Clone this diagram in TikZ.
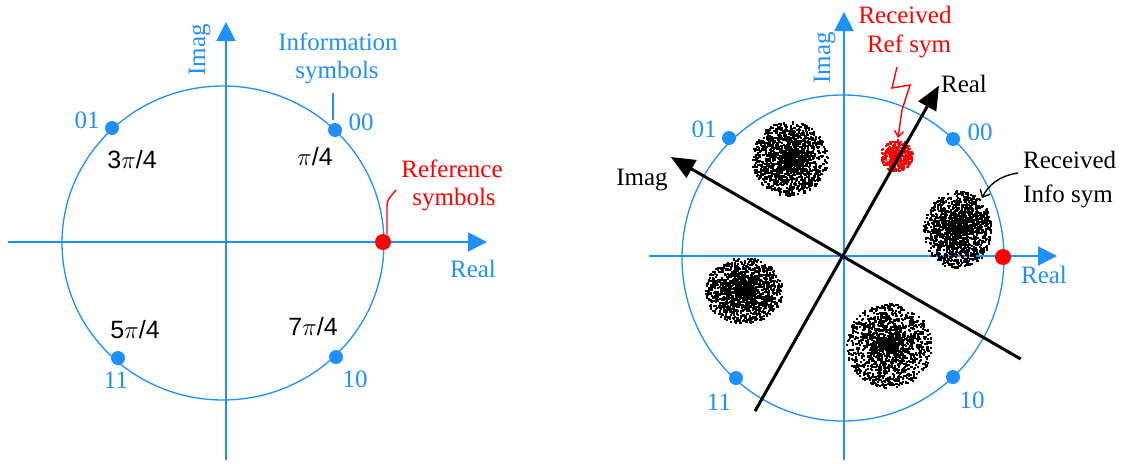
\documentclass[tikz,border=0pt]{standalone}
\usepackage{fontspec}
\setmainfont{Liberation Serif}
\newfontfamily\sansf{Liberation Sans}
\usetikzlibrary{arrows.meta,calc}
\definecolor{cblue}{RGB}{30,144,255}
\definecolor{cred}{RGB}{255,0,0}
\begin{document}
\begin{tikzpicture}[x=1pt,y=-1pt,
  lbl/.style={font=\fontsize{25}{30}\selectfont, inner sep=0pt},
  blbl/.style={lbl,text=cblue},
  rlbl/.style={lbl,text=cred},
  klbl/.style={lbl,text=black},
  plbl/.style={font=\sansf\fontsize{25}{29}\selectfont, inner sep=0pt},
  axisb/.style={draw=cblue,line width=2pt,-{Triangle[length=19pt,width=19pt]}},
  circb/.style={draw=cblue,line width=1.3pt},
  bdot/.style={circle,fill=cblue,minimum size=14pt,inner sep=0pt},
  rdot/.style={circle,fill=cred,minimum size=16pt,inner sep=0pt},
  axisk/.style={draw=black,line width=3pt,-{Triangle[length=24pt,width=20pt]}},
  redlead/.style={draw=cred,line width=1.4pt},
  blklead/.style={draw=black,line width=1.4pt},
]
\useasboundingbox[fill=white] (0,0) rectangle (1123,463);

% ================= LEFT DIAGRAM =================
\coordinate (LxS) at (8,242);
\coordinate (LxE) at (487,242);
\coordinate (LyS) at (226,460);
\coordinate (LyE) at (226,22);
\draw[circb] (223,243) ellipse[x radius=161pt, y radius=157pt];
\draw[axisb] (LxS) -- (LxE);
\draw[axisb] (LyS) -- (LyE);

\node[bdot] (L01) at (112,128) {};
\node[bdot] (L00) at (335,130) {};
\node[bdot] (L11) at (118,358) {};
\node[bdot] (L10) at (336,357) {};
\node[rdot] (Lref) at (383,242) {};

\node[blbl,anchor=base] (tL01) at (87,128) {01};
\node[blbl,anchor=base] (tL00) at (361,130) {00};
\node[blbl,anchor=base] (tL11) at (116,388) {11};
\node[blbl,anchor=base] (tL10) at (355,387) {10};

\node[plbl,anchor=base] (p3) at (132,168) {3$\pi$/4};
\node[plbl,anchor=base] (p1) at (315,165) {$\pi$/4};
\node[plbl,anchor=base] (p5) at (135,338) {5$\pi$/4};
\node[plbl,anchor=base] (p7) at (313,335) {7$\pi$/4};

\node[blbl,anchor=base] (info1) at (338,50) {Information};
\node[blbl,anchor=base] (info2) at (337,78) {symbols};
\coordinate (infoLine) at (333,93);
\draw[draw=cblue,line width=1.3pt,shorten >=3pt] (infoLine) -- (infoLine |- L00.north);

\node[rlbl,anchor=base] (ref1) at (452,177) {Reference};
\node[rlbl,anchor=base] (ref2) at (454,205) {symbols};
\coordinate (refEnd) at (396,190);
\draw[redlead] ([xshift=4pt]Lref.north) -- ++(0,-28) .. controls ++(0,-8) and ++(-4,6) .. (refEnd);

\node[blbl,anchor=base] (LReal) at (473,277) {Real};
\node[blbl,anchor=base,rotate=90] (LImag) at (205,50) {Imag};

% ================= RIGHT DIAGRAM =================
\coordinate (RxS) at (649,256);
\coordinate (RxE) at (1057,256);
\coordinate (RyS) at (844,460);
\coordinate (RyE) at (844,12);
\coordinate (RO) at (844,257);
\draw[circb] (843,258) ellipse[x radius=161pt, y radius=163pt];
\draw[axisb] (RxS) -- (RxE);
\draw[axisb] (RyS) -- (RyE);

% noise clusters
\pgfmathsetseed{4711}
\foreach \cx/\cy/\rx/\ry in {789/158/38/37, 957/229/34/39, 743/290/39/33, 888/345/43/42} {
  \foreach \i in {1,...,1500} {
    \pgfmathsetmacro\ang{360*rnd}
    \pgfmathsetmacro\rad{rnd^0.85}
    \fill[black] ({\cx+\rx*\rad*cos(\ang)},{\cy+\ry*\rad*sin(\ang)}) rectangle ++(2.1,2.1);
  }
}
\foreach \i in {1,...,380} {
  \pgfmathsetmacro\ang{360*rnd}
  \pgfmathsetmacro\rad{rnd^0.7}
  \fill[cred] ({896+16*\rad*cos(\ang)},{155+16*\rad*sin(\ang)}) rectangle ++(2.1,2.1);
}
\coordinate (rcl) at (897,155);

% rotated black axes (angles negated because y points down)
\coordinate (kRS) at ($(RO)+(120:178)$);
\coordinate (kRE) at ($(RO)+(-61:196)$);
\coordinate (kIS) at ($(RO)+(30:204)$);
\coordinate (kIE) at ($(RO)+(-150:200)$);
\draw[axisk] (kRS) -- (kRE);
\draw[axisk] (kIS) -- (kIE);

\node[bdot] (R01) at (729,138) {};
\node[bdot] (R00) at (953,139) {};
\node[bdot] (R11) at (736,378) {};
\node[bdot] (R10) at (953,377) {};
\node[rdot] (Rref) at (1003,257) {};

\node[blbl,anchor=base] (tR01) at (704,137) {01};
\node[blbl,anchor=base] (tR00) at (980,140) {00};
\node[blbl,anchor=base] (tR11) at (719,410) {11};
\node[blbl,anchor=base] (tR10) at (972,408) {10};

\node[blbl,anchor=base] (RReal) at (1044,283) {Real};
\node[blbl,anchor=base,rotate=90] (RImag) at (830,58) {Imag};

\node[klbl,anchor=base] (kReal) at (964,92) {Real};
\node[klbl,anchor=base] (kImag) at (642,185) {Imag};

\node[rlbl,anchor=base] (rr1) at (905,23) {Received};
\node[rlbl,anchor=base] (rr2) at (909,52) {Ref sym};
\coordinate (zzS) at (897,67);
\coordinate (zzT) at (898,138);
\draw[redlead,-{Straight Barb[length=6pt,width=9pt]}] (zzS) -- (892,88) -- (910,85) -- (902,110) -- (zzT);

\node[klbl,anchor=base west] (ri1) at (1023,168) {Received};
\node[klbl,anchor=base west] (ri2) at (1023,202) {Info sym};
\coordinate (ilS) at (1018,173);
\coordinate (ilT) at (982,198);
\draw[blklead,-{Straight Barb[length=6pt,width=11pt]}] (ilS) .. controls (998,176) and (988,186) .. (ilT);
\end{tikzpicture}
\end{document}
